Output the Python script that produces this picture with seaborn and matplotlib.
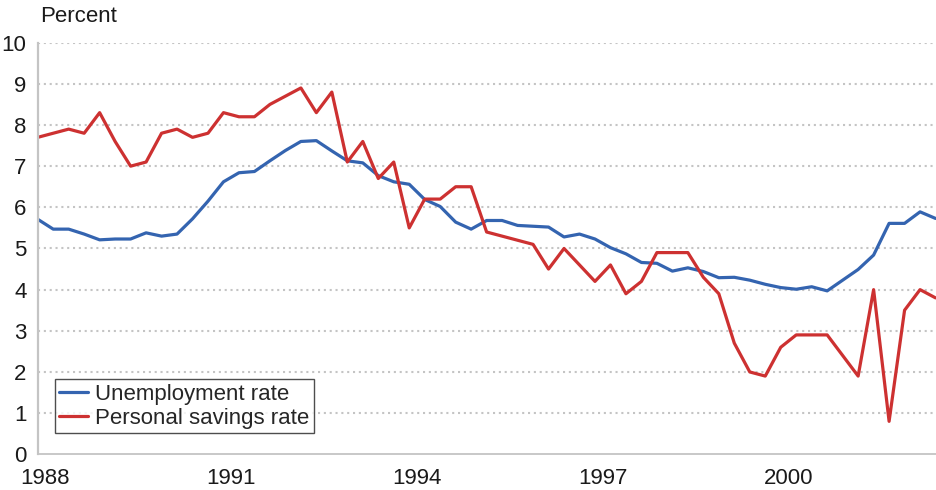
import numpy as np
import pandas as pd
import matplotlib
matplotlib.use('Agg')
import matplotlib.pyplot as plt
import seaborn as sns

# quarterly data, 1988Q1 - 2002Q3
start_year = 1988
unemployment = [5.71, 5.47, 5.47, 5.35, 5.21, 5.23, 5.23, 5.38, 5.30, 5.35,
                5.72, 6.15, 6.62, 6.84, 6.87, 7.13, 7.38, 7.60, 7.62, 7.37,
                7.13, 7.08, 6.77, 6.62, 6.56, 6.19, 6.02, 5.64, 5.47, 5.68,
                5.68, 5.56, 5.54, 5.52, 5.28, 5.35, 5.23, 5.02, 4.87, 4.66,
                4.64, 4.45, 4.53, 4.44, 4.29, 4.30, 4.23, 4.13, 4.05, 4.01,
                4.07, 3.97, 4.23, 4.49, 4.84, 5.61, 5.61, 5.89, 5.73]
savings = [7.7, 7.8, 7.9, 7.8, 8.3, 7.6, 7.0, 7.1, 7.8, 7.9,
           7.7, 7.8, 8.3, 8.2, 8.2, 8.5, 8.7, 8.9, 8.3, 8.8,
           7.1, 7.6, 6.7, 7.1, 5.5, 6.2, 6.2, 6.5, 6.5, 5.4,
           5.3, 5.2, 5.1, 4.5, 5.0, 4.6, 4.2, 4.6, 3.9, 4.2,
           4.9, 4.9, 4.9, 4.3, 3.9, 2.7, 2.0, 1.9, 2.6, 2.9,
           2.9, 2.9, 2.4, 1.9, 4.0, 0.8, 3.5, 4.0, 3.8]
year_labels = ['1988', '1991', '1994', '1997', '2000']
series_names = ['Unemployment rate', 'Personal savings rate']

t = start_year + np.arange(len(savings)) / 4.0
df = pd.DataFrame({'t': t, series_names[0]: unemployment, series_names[1]: savings})
long = df.melt(id_vars='t', var_name='series', value_name='pct')

sns.set_style('white')
plt.rcParams['font.family'] = ['Liberation Sans', 'DejaVu Sans']
fs = 16
grey = '#c4c4c4'

fig = plt.figure(figsize=(9.36, 4.9), dpi=100)
ax = fig.add_axes([0.0403, 0.0729, 0.9592, 0.84])

sns.lineplot(data=long, x='t', y='pct', hue='series', hue_order=series_names,
             palette=['#3464b0', '#cd3131'], linewidth=2.3, ax=ax, legend=False)

ax.set_xlim(start_year, t[-1])
ax.set_ylim(0, 10)
ax.set_yticks(range(0, 11))
ax.set_yticklabels([str(v) for v in range(0, 11)], fontsize=fs, color='#1a1a1a')
ax.tick_params(axis='y', length=5, width=1.3, color=grey, pad=3)

# year labels sit half a quarter right of the tick
ax.set_xticks([int(y) + 0.125 for y in year_labels])
ax.set_xticklabels(year_labels, fontsize=fs, color='#1a1a1a')
ax.set_xticks(t, minor=True)
ax.tick_params(axis='x', which='major', length=0, pad=10)
ax.tick_params(axis='x', which='minor', length=5, width=1.3, color=grey)

for v in range(1, 11):
    ax.axhline(v, color=grey, lw=1.5, ls=(0, (1, 1.8)), zorder=0)

for s in ['top', 'right']:
    ax.spines[s].set_visible(False)
ax.spines['left'].set_color(grey)
ax.spines['left'].set_linewidth(1.6)
ax.spines['bottom'].set_color(grey)
ax.spines['bottom'].set_linewidth(1.3)
ax.set_xlabel('')
ax.set_ylabel('')

fig.text(40 / 936, 1 - 17 / 490, 'Percent', fontsize=fs, va='center', ha='left', color='#1a1a1a')

handles = [plt.Line2D([], [], color=c, lw=2.3) for c in ['#3464b0', '#cd3131']]
leg = ax.legend(handles, series_names, loc='lower left', bbox_to_anchor=(0.0193, 0.0517),
                borderaxespad=0, fontsize=fs, frameon=True, fancybox=False,
                handlelength=1.3, handletextpad=0.3, labelspacing=0.12, borderpad=0.2)
leg.get_frame().set_edgecolor('#222222')
leg.get_frame().set_linewidth(1.0)

fig.savefig('out.png', dpi=100)
